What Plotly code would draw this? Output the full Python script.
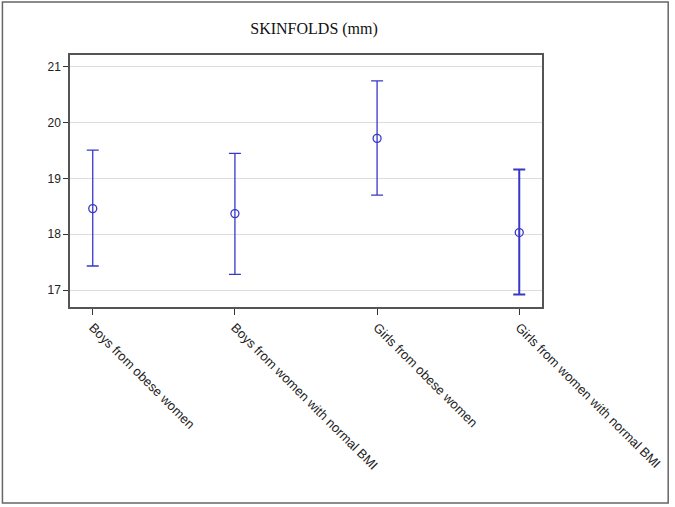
import plotly.graph_objects as go

categories = ["Boys from obese women", "Boys from women with normal BMI",
              "Girls from obese women", "Girls from women with normal BMI"]
means = [18.46, 18.37, 19.72, 18.03]
upper = [19.51, 19.45, 20.75, 19.16]
lower = [17.43, 17.28, 18.70, 16.92]
bar_thickness = [1.3, 1.3, 1.3, 2.0]

err_plus = [u - m for u, m in zip(upper, means)]
err_minus = [m - l for m, l in zip(means, lower)]

W, H = 675, 507
ml, mr, mt, mb = 70, 130, 55, 200
pw, ph = W - ml - mr, H - mt - mb

def px_x(x):
    return (x - ml) / pw

def px_y(y):
    return (H - mb - y) / ph

blue = "#3838c8"
fig = go.Figure()
for i, cat in enumerate(categories):
    fig.add_trace(go.Scatter(
        x=[cat], y=[means[i]], mode="markers",
        marker=dict(symbol="circle-open", size=8, color=blue, line=dict(width=1.3, color=blue)),
        error_y=dict(type="data", symmetric=False, array=[err_plus[i]], arrayminus=[err_minus[i]],
                     color=blue, thickness=bar_thickness[i], width=6),
        showlegend=False,
    ))

fig.update_layout(
    width=W, height=H,
    margin=dict(l=ml, r=mr, t=mt, b=mb),
    paper_bgcolor="white", plot_bgcolor="white",
    title=dict(text="SKINFOLDS (mm)", x=px_x(291), xanchor="center", y=1 - 28 / H, yanchor="middle",
               font=dict(family="Liberation Serif", size=16, color="#111111")),
    font=dict(family="Liberation Sans", size=12, color="#222222"),
    xaxis=dict(type="category", categoryorder="array", categoryarray=categories,
               range=[-0.16, 3.16], tickangle=45, ticks="outside", ticklen=6, tickcolor="#333333",
               showline=True, linecolor="#555555", linewidth=1.5, mirror=True, showgrid=False,
               tickfont=dict(size=13)),
    yaxis=dict(range=[16.695, 21.215], tickvals=[17, 18, 19, 20, 21], ticks="outside", ticklen=5,
               tickcolor="#333333", showline=True, linecolor="#555555", linewidth=1.5, mirror=True,
               showgrid=True, gridcolor="#dddddd", gridwidth=1, zeroline=False,
               tickfont=dict(size=12)),
    shapes=[dict(type="rect", xref="paper", yref="paper",
                 x0=px_x(2), x1=px_x(672), y0=px_y(503), y1=px_y(2),
                 line=dict(color="#666666", width=1.5), fillcolor="rgba(0,0,0,0)", layer="below")],
)

fig.write_html("out.html", config={"displayModeBar": False},
               post_script="document.body.style.margin='0';document.body.style.padding='0';")
